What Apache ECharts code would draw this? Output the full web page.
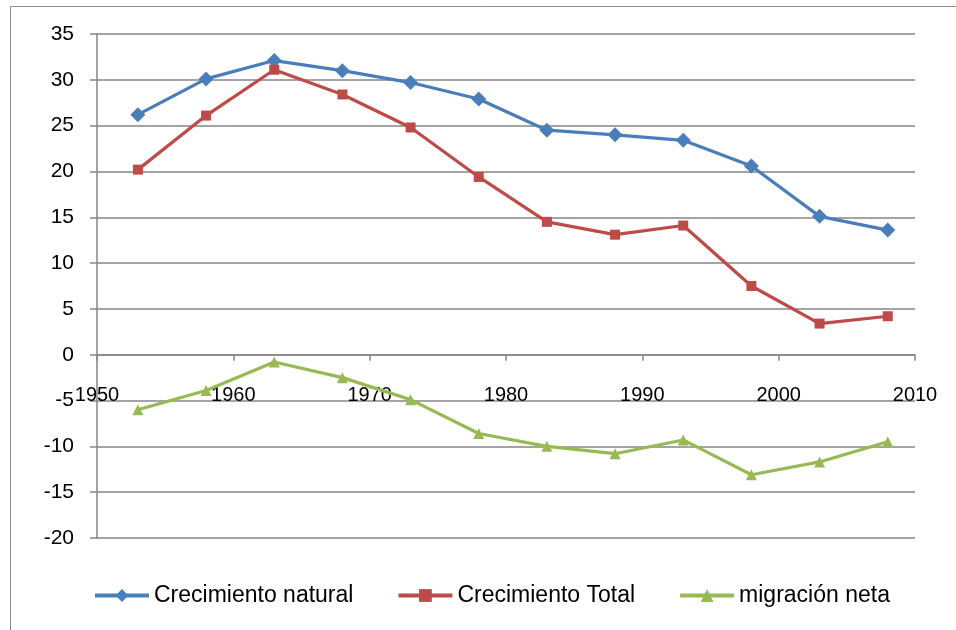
<!DOCTYPE html>
<html><head><meta charset="utf-8">
<script src="https://cdn.jsdelivr.net/npm/echarts@6/dist/echarts.min.js"></script>
<style>html,body{margin:0;padding:0;background:#fff}#c{width:956px;height:630px}</style>
</head><body><div id="c"></div>
<script>
const years = [1953, 1958, 1963, 1968, 1973, 1978, 1983, 1988, 1993, 1998, 2003, 2008];
const natural = [26.2, 30.1, 32.1, 31.0, 29.7, 27.9, 24.5, 24.0, 23.4, 20.6, 15.1, 13.6];
const total = [20.2, 26.1, 31.1, 28.4, 24.8, 19.4, 14.5, 13.1, 14.1, 7.5, 3.4, 4.2];
const migracion = [-6.0, -3.9, -0.8, -2.5, -4.9, -8.6, -10.0, -10.8, -9.3, -13.1, -11.7, -9.5];
const seriesNames = ['Crecimiento natural', 'Crecimiento Total', 'migración neta'];

const pair = (xs, ys) => xs.map((x, i) => [x, ys[i]]);
const font = 'Liberation Sans';
const chart = echarts.init(document.getElementById('c'));
chart.setOption({
  animation: false,
  backgroundColor: '#fff',
  graphic: [{type: 'rect', shape: {x: 10.5, y: 6.5, width: 1000, height: 700}, style: {fill: 'none', stroke: '#8c8c8c', lineWidth: 1}, silent: true}],
  grid: {left: 97, right: 41, top: 34, bottom: 92, containLabel: false},
  legend: {
    top: 579, left: 88, itemGap: 43, itemWidth: 54, itemHeight: 16,
    lineStyle: {width: 4},
    textStyle: {fontFamily: font, fontSize: 23, color: '#000'},
    data: seriesNames
  },
  xAxis: {
    type: 'value', min: 1950, max: 2010, interval: 10,
    axisLine: {onZero: true, lineStyle: {color: '#868686', width: 1.5}},
    axisTick: {show: true, length: 6, lineStyle: {color: '#868686', width: 1.5}},
    axisLabel: {margin: -153, fontFamily: font, fontSize: 20, color: '#000', formatter: v => String(v)},
    splitLine: {show: false}
  },
  yAxis: {
    type: 'value', min: -20, max: 35, interval: 5,
    axisLine: {show: true, lineStyle: {color: '#868686', width: 1.5}},
    axisTick: {show: true, length: 7, lineStyle: {color: '#868686', width: 1.5}},
    axisLabel: {margin: 23, fontFamily: font, fontSize: 21, color: '#000'},
    splitLine: {show: true, lineStyle: {color: '#868686', width: 1.5}}
  },
  series: [
    {name: seriesNames[0], type: 'line', data: pair(years, natural), symbol: 'diamond', symbolSize: 15,
     color: '#4A7EBB', lineStyle: {width: 3.2}, itemStyle: {color: '#4A7EBB'}},
    {name: seriesNames[1], type: 'line', data: pair(years, total), symbol: 'rect', symbolSize: 10,
     color: '#BE4B48', lineStyle: {width: 3.2}, itemStyle: {color: '#BE4B48'}},
    {name: seriesNames[2], type: 'line', data: pair(years, migracion), symbol: 'triangle', symbolSize: 11,
     color: '#98B954', lineStyle: {width: 3.2}, itemStyle: {color: '#98B954'}}
  ]
});
</script></body></html>
